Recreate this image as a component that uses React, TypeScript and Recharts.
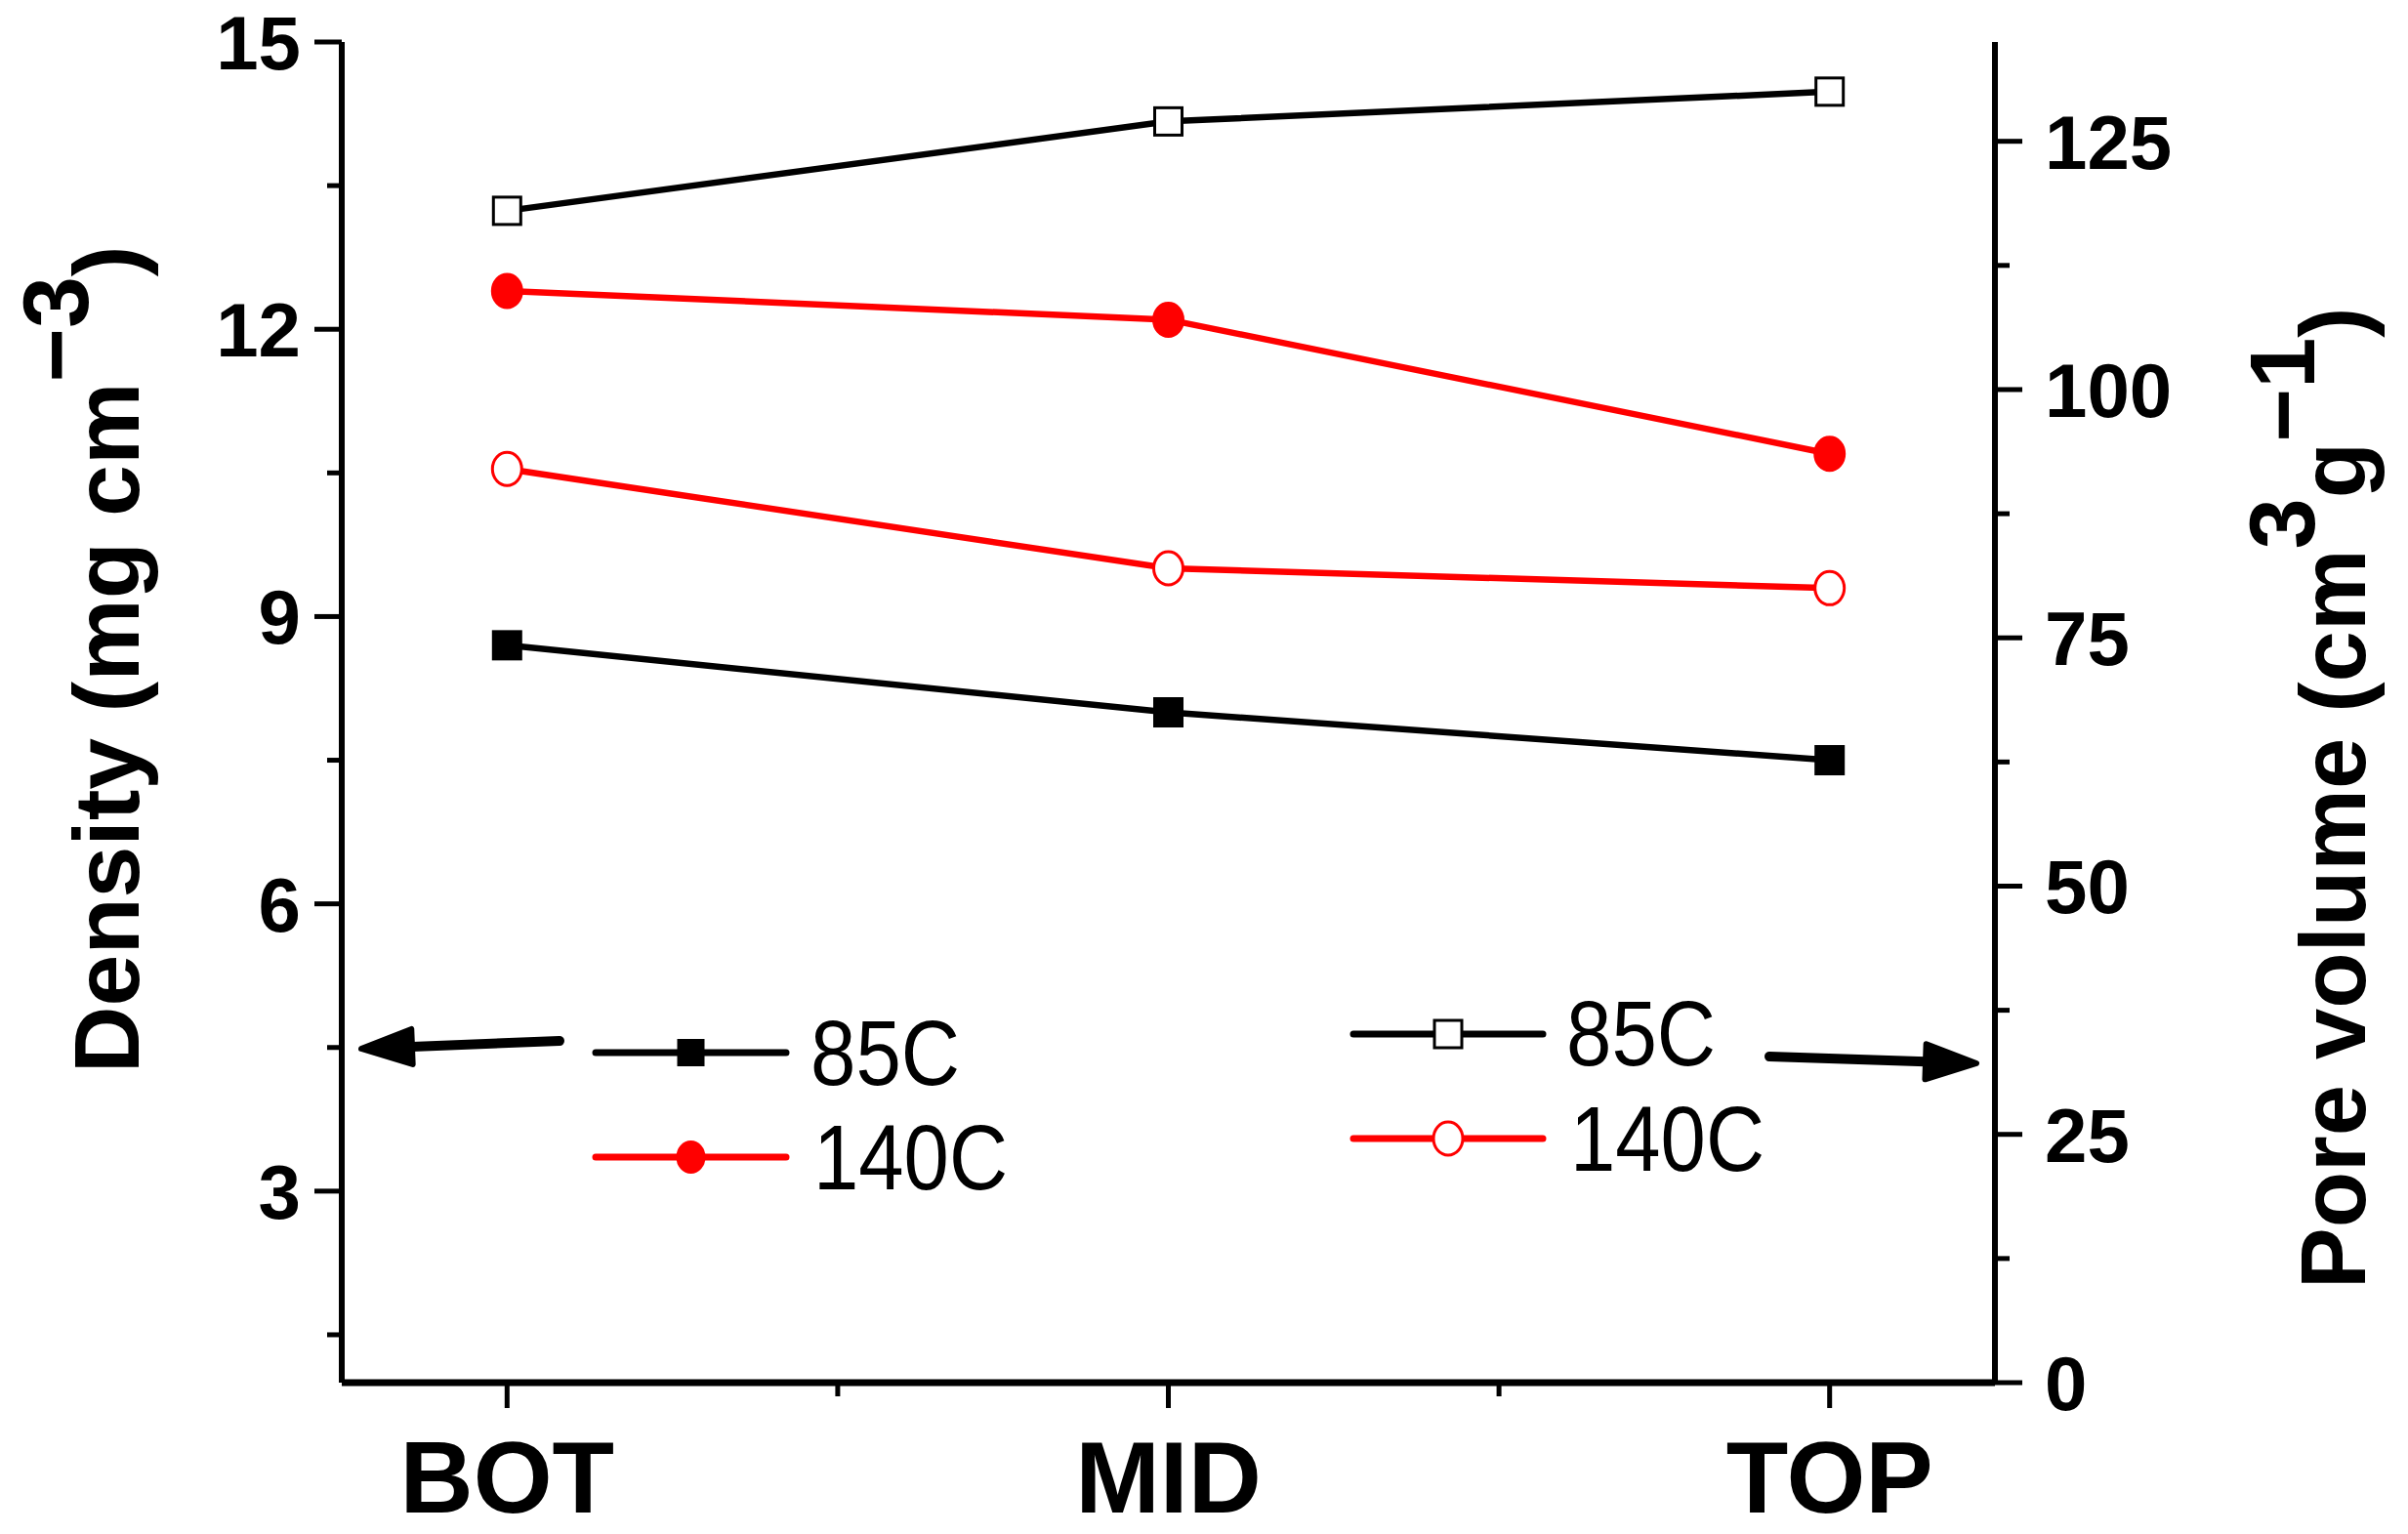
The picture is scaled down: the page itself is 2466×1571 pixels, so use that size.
import React from 'react';
import { LineChart, Line, XAxis, YAxis } from 'recharts';

const positions = ['BOT', 'MID', 'TOP'];
const density85 = [8.7, 8.0, 7.5];
const density140 = [12.4, 12.1, 10.7];
const pore85 = [118, 127, 130];
const pore140 = [92, 82, 80];

const xTicks = [0, 0.5, 1, 1.5, 2];
const densityTicks = [1.5, 3, 4.5, 6, 7.5, 9, 10.5, 12, 13.5, 15];
const poreTicks = [0, 12.5, 25, 37.5, 50, 62.5, 75, 87.5, 100, 112.5, 125];

const data = positions.map((p, i) => ({
  x: i,
  d85: density85[i],
  d140: density140[i],
  p85: pore85[i],
  p140: pore140[i],
}));

const W = 2466;
const H = 1571;
const FONT = '"Liberation Sans", Arial, sans-serif';
const RED = '#ff0000';

const XTick = (props: any) => {
  const { x, y, payload } = props;
  const v = payload.value;
  const major = Number.isInteger(v);
  return (
    <g>
      <line x1={x} x2={x} y1={y} y2={y + (major ? 26 : 14)} stroke="#000" strokeWidth={5} />
      {major && (
        <text x={x} y={y + 133} textAnchor="middle" fontSize={104} fontWeight="bold" fontFamily={FONT} fill="#000">
          {positions[v]}
        </text>
      )}
    </g>
  );
};

const LeftTick = (props: any) => {
  const { x, y, payload } = props;
  const v = payload.value;
  const major = v % 3 === 0;
  return (
    <g>
      <line x1={x} x2={x - (major ? 28 : 15)} y1={y} y2={y} stroke="#000" strokeWidth={5} />
      {major && (
        <text x={x - 42} y={y + 28} textAnchor="end" fontSize={78} fontWeight="bold" fontFamily={FONT} fill="#000">
          {v}
        </text>
      )}
    </g>
  );
};

const RightTick = (props: any) => {
  const { x, y, payload } = props;
  const v = payload.value;
  const major = v % 25 === 0;
  return (
    <g>
      <line x1={x} x2={x + (major ? 28 : 15)} y1={y} y2={y} stroke="#000" strokeWidth={5} />
      {major && (
        <text x={x + 51} y={y + 28} textAnchor="start" fontSize={78} fontWeight="bold" fontFamily={FONT} fill="#000">
          {v}
        </text>
      )}
    </g>
  );
};

const square = (fill: string) => (props: any) => {
  const { cx, cy, index } = props;
  return <rect key={index} x={cx - 14} y={cy - 14} width={28} height={28} fill={fill} stroke="#000" strokeWidth={3} />;
};

const circle = (fill: string) => (props: any) => {
  const { cx, cy, index } = props;
  return <ellipse key={index} cx={cx} cy={cy} rx={15} ry={17} fill={fill} stroke={RED} strokeWidth={3} />;
};

const LeftTitle = (props: any) => {
  const { viewBox } = props;
  const x0 = viewBox.x + 142;
  const y0 = 1099;
  return (
    <text
      transform={`translate(${x0},${y0}) rotate(-90)`}
      fontSize={95}
      fontWeight="bold"
      fontFamily={FONT}
      fill="#000"
    >
      Density (mg cm
      <tspan dy={-52}>−3</tspan>
      <tspan dy={52}>)</tspan>
    </text>
  );
};

const RightTitle = (props: any) => {
  const { viewBox } = props;
  const x0 = viewBox.x + 379;
  const y0 = 1320;
  return (
    <text
      transform={`translate(${x0},${y0}) rotate(-90)`}
      fontSize={94}
      fontWeight="bold"
      fontFamily={FONT}
      fill="#000"
    >
      Pore volume (cm
      <tspan dy={-52}>3</tspan>
      <tspan dy={52}>g</tspan>
      <tspan dy={-52}>−1</tspan>
      <tspan dy={52}>)</tspan>
    </text>
  );
};

const LegendRow = ({ x1, x2, y, color, marker, label, tx, ty, tw }: any) => {
  const mx = (x1 + x2) / 2;
  return (
    <g>
      <line x1={x1} x2={x2} y1={y} y2={y} stroke={color} strokeWidth={7} strokeLinecap="round" />
      {marker === 'fsq' && <rect x={mx - 14} y={y - 14} width={28} height={28} fill="#000" />}
      {marker === 'osq' && <rect x={mx - 14} y={y - 14} width={28} height={28} fill="#fff" stroke="#000" strokeWidth={3} />}
      {marker === 'fci' && <ellipse cx={mx} cy={y} rx={15} ry={17} fill={RED} />}
      {marker === 'oci' && <ellipse cx={mx} cy={y} rx={15} ry={17} fill="#fff" stroke={RED} strokeWidth={3} />}
      <text x={tx} y={ty} fontSize={95} fontFamily={FONT} fill="#000" textLength={tw} lengthAdjust="spacingAndGlyphs">
        {label}
      </text>
    </g>
  );
};

const Arrow = ({ x1, y1, x2, y2 }: any) => {
  const ang = Math.atan2(y2 - y1, x2 - x1);
  const len = 52;
  const hw = 18;
  const bx = x2 - len * Math.cos(ang);
  const by = y2 - len * Math.sin(ang);
  const px = -Math.sin(ang) * hw;
  const py = Math.cos(ang) * hw;
  return (
    <g>
      <line x1={x1} y1={y1} x2={bx} y2={by} stroke="#000" strokeWidth={10} strokeLinecap="round" />
      <polygon
        points={`${x2},${y2} ${bx + px},${by + py} ${bx - px},${by - py}`}
        fill="#000"
        stroke="#000"
        strokeWidth={6}
        strokeLinejoin="round"
      />
    </g>
  );
};

export default function App() {
  return (
    <div style={{ position: 'absolute', left: 0, top: 0, width: W, height: H, background: '#fff' }}>
      <LineChart width={W} height={H} data={data} margin={{ top: 43, right: 0, bottom: 0, left: 0 }}>
        <XAxis
          dataKey="x"
          type="number"
          domain={[-0.25, 2.25]}
          ticks={xTicks}
          allowDataOverflow
          height={155}
          tickSize={0}
          tickMargin={0}
          tickLine={false}
          axisLine={{ stroke: '#000', strokeWidth: 7 }}
          tick={<XTick />}
          interval={0}
        />
        <XAxis
          xAxisId="top"
          orientation="top"
          dataKey="x"
          type="number"
          domain={[-0.25, 2.25]}
          allowDataOverflow
          height={0}
          tick={false}
          tickLine={false}
          axisLine={{ stroke: '#000', strokeWidth: 6 }}
        />
        <YAxis
          yAxisId="left"
          orientation="left"
          type="number"
          domain={[1, 15]}
          ticks={densityTicks}
          allowDataOverflow
          width={350}
          tickSize={0}
          tickMargin={0}
          tickLine={false}
          axisLine={{ stroke: '#000', strokeWidth: 6 }}
          tick={<LeftTick />}
          interval={0}
          label={{ content: <LeftTitle /> }}
        />
        <YAxis
          yAxisId="right"
          orientation="right"
          type="number"
          domain={[0, 135]}
          ticks={poreTicks}
          allowDataOverflow
          width={423}
          tickSize={0}
          tickMargin={0}
          tickLine={false}
          axisLine={{ stroke: '#000', strokeWidth: 6 }}
          tick={<RightTick />}
          interval={0}
          label={{ content: <RightTitle /> }}
        />
        <Line yAxisId="left" dataKey="d85" stroke="#000" strokeWidth={6.5} dot={square('#000')} isAnimationActive={false} />
        <Line yAxisId="left" dataKey="d140" stroke={RED} strokeWidth={6.5} dot={circle(RED)} isAnimationActive={false} />
        <Line yAxisId="right" dataKey="p85" stroke="#000" strokeWidth={6.5} dot={square('#fff')} isAnimationActive={false} />
        <Line yAxisId="right" dataKey="p140" stroke={RED} strokeWidth={6.5} dot={circle('#fff')} isAnimationActive={false} />
      </LineChart>
      <svg width={W} height={H} style={{ position: 'absolute', left: 0, top: 0, pointerEvents: 'none' }}>
        <Arrow x1={573} y1={1066} x2={370} y2={1074} />
        <LegendRow x1={610} x2={805} y={1078} color="#000" marker="fsq" label="85C" tx={830} ty={1111} tw={153} />
        <LegendRow x1={610} x2={805} y={1185} color={RED} marker="fci" label="140C" tx={833} ty={1218} tw={199} />
        <LegendRow x1={1386} x2={1580} y={1059} color="#000" marker="osq" label="85C" tx={1604} ty={1091} tw={153} />
        <LegendRow x1={1386} x2={1580} y={1166} color={RED} marker="oci" label="140C" tx={1608} ty={1199} tw={199} />
        <Arrow x1={1812} y1={1082} x2={2024} y2={1089} />
      </svg>
    </div>
  );
}
